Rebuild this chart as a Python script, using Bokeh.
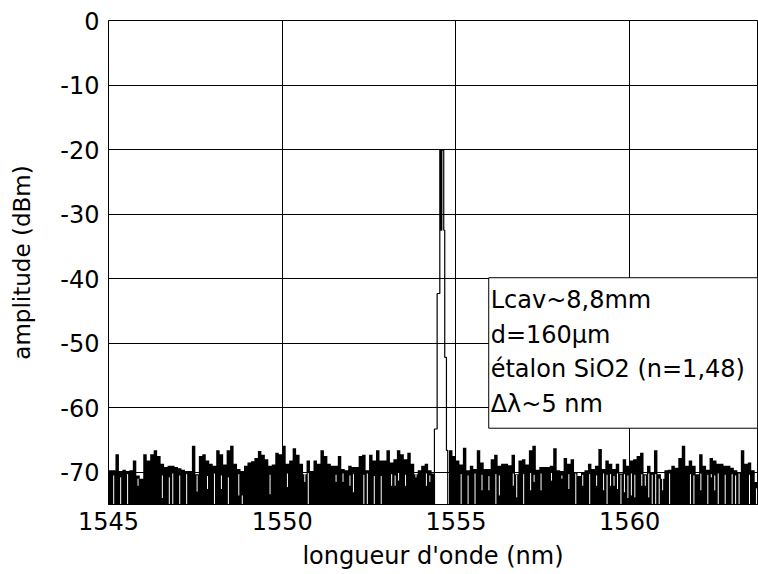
import numpy as np
from bokeh.plotting import figure
from bokeh.models import FixedTicker, BoxAnnotation, Label, Range1d
from bokeh.embed import file_html
from bokeh.resources import INLINE

# ---------------- data ----------------
WL_START = 1545.05   # centre wavelength of first noise-floor sample (nm)
WL_STEP = 0.1        # sample spacing (nm)

# upper envelope of the noise floor per sample (dBm); None = no noise (inside the laser line)
noise_top = [
    -69.7, -69.7, -67.2, -69.8, -69.6, -69.8, -69.7, -68.2, -70.5, -71.0,
    -67.2, -68.2, -67.2, -66.6, -67.5, -68.7, -69.2, -69.0, -69.0, -69.2,
    -69.4, -69.6, -69.8, -69.8, -65.9, -70.3, -67.5, -67.2, -68.2, -68.7,
    -69.0, -66.6, -67.2, -68.8, -66.6, -65.9, -68.7, -69.5, -69.8, -69.0,
    -68.5, -68.3, -67.8, -66.7, -67.3, -68.0, -69.0, -68.8, -67.0, -67.2,
    -65.9, -68.7, -68.2, -66.3, -67.3, -68.7, -70.3, -68.2, -69.8, -68.2,
    -68.7, -66.6, -67.5, -68.7, -69.0, -69.0, -67.5, -69.5, -69.7, -69.0,
    -69.2, -69.2, -67.5, -67.3, -69.7, -67.3, -68.2, -66.6, -68.2, -68.2,
    -66.6, -68.5, -68.0, -66.6, -67.2, -68.0, -67.0, -68.7, -70.3, -69.7,
    -69.0, -68.7, -69.7, -70.2, None, None, None, None, -66.6, -67.5,
    -68.2, -68.8, -66.2, -69.7, -69.0, -69.5, -66.6, -68.5, -69.5, -69.5,
    -68.0, -67.3, -69.0, -68.7, -68.7, -68.9, -67.3, -70.3, -68.2, -68.0,
    -68.8, -66.6, -65.9, -69.6, -69.2, -69.2, -69.2, -69.0, -66.3, -69.7,
    -69.8, -67.8, -68.7, -68.0, -70.0, -70.6, -70.0, -69.7, -68.7, -69.5,
    -69.0, -66.4, -69.5, -68.2, -68.7, -69.5, -68.7, -70.2, -68.0, -69.0,
    -68.2, -68.0, -67.5, -67.0, -70.3, -69.0, -70.0, -66.6, -70.3, -71.0,
    -69.7, -69.6, -69.0, -69.3, -67.8, -65.9, -69.0, -68.2, -69.0, -70.3,
    -67.2, -69.0, -69.6, -67.8, -68.2, -68.7, -68.7, -69.0, -69.0, -69.3,
    -69.7, -70.0, -66.6, -68.7, -68.5, -69.7, -71.5,
]

# samples where the trace stays above a level (white slits in the noise floor)
gap_bin = [1, 3, 5, 8, 15, 17, 18, 20, 22, 25,
           28, 30, 32, 34, 37, 38, 46, 51, 56, 57,
           65, 67, 69, 70, 73, 74, 76, 78, 81, 82,
           83, 85, 88, 91, 92, 101, 103, 105, 107, 109,
           111, 112, 116, 117, 119, 121, 122, 124, 127, 130,
           132, 134, 136, 138, 140, 142, 143, 144, 145, 146,
           147, 148, 149, 150, 151, 153, 154, 155, 156, 157,
           158, 159, 161, 167, 168, 170, 172, 173, 174, 175,
           177, 179, 180, 181, 184, 186]
gap_top = [-70.5, -70.8, -70.3, -71.0, -70.5, -70.8, -70.2, -70.5, -70.3, -70.5,
           -70.6, -70.2, -70.5, -70.8, -70.3, -73.6, -70.4, -70.2, -70.3, -70.1,
           -70.4, -70.2, -70.5, -70.3, -70.4, -70.2, -70.6, -70.6, -70.3, -70.5,
           -70.1, -70.4, -70.3, -70.2, -70.5, -70.3, -70.5, -70.2, -70.4, -70.6,
           -70.3, -70.5, -70.2, -70.4, -70.3, -70.0, -70.4, -70.2, -70.0, -70.5,
           -70.3, -70.2, -70.4, -70.3, -70.5, -70.2, -70.4, -70.3, -70.6, -70.2,
           -70.4, -70.3, -70.5, -70.2, -70.4, -70.3, -70.5, -70.2, -70.4, -70.3,
           -71.0, -70.4, -70.2, -70.3, -70.5, -70.2, -70.4, -70.3, -70.5, -70.2,
           -70.4, -70.3, -70.5, -70.2, -70.4, -72.5]
gap_bottom = [-76, -76, -76, -72.1, -74.0, -76, -76, -76, -76, -73.0,
              -72.6, -76, -72.6, -76, -73.6, -76, -73.4, -72.3, -71.5, -76,
              -71.5, -71.5, -72.1, -73.1, -76, -76, -76, -76, -72.1, -72.1,
              -71.3, -72.1, -70.8, -72.1, -71.5, -76, -76, -76, -72.8, -72.8,
              -76, -73.6, -72.1, -73.9, -76, -72.8, -71.5, -72.8, -71.3, -71.0,
              -72.6, -76, -72.1, -76, -72.1, -72.8, -76, -72.1, -72.1, -72.6,
              -76, -73.1, -74.0, -73.6, -73.9, -72.1, -72.1, -73.9, -76, -76,
              -76, -72.8, -76, -76, -76, -72.8, -76, -70.8, -72.8, -76,
              -76, -76, -76, -76, -76, -76]

# laser line (trace around 1554.6 nm)
peak_wl = [1554.381, 1554.381, 1554.459, 1554.459, 1554.536, 1554.536,
           1554.565, 1554.565, 1554.594, 1554.594, 1554.649, 1554.649,
           1554.678, 1554.678, 1554.727, 1554.727, 1554.764, 1554.764]
peak_db = [-76.0, -63.3, -63.3, -42.3, -42.3, -20.1,
           -20.1, -32.5, -32.5, -20.1, -20.1, -32.5,
           -32.5, -52.2, -52.2, -66.6, -66.6, -76.0]

x_ticks = [1545, 1550, 1555, 1560]
y_ticks = [-70, -60, -50, -40, -30, -20, -10, 0]
x_title = "longueur d'onde (nm)"
y_title = "amplitude (dBm)"
note_lines = ["Lcav~8,8mm", "d=160\u00b5m", "\u00e9talon SiO2 (n=1,48)", "\u0394\u03bb~5 nm"]
FLOOR = -76.0

# ---------------- figure ----------------
FONT = "DejaVu Sans"
p = figure(width=758, height=574,
           x_range=Range1d(1545, 1563.68), y_range=Range1d(-75, 0),
           output_backend="svg", toolbar_location=None,
           min_border_left=108, min_border_right=1,
           min_border_top=20, min_border_bottom=70)
p.background_fill_color = "white"
p.border_fill_color = "white"
p.outline_line_color = "black"
p.outline_line_width = 1

wl = WL_START + WL_STEP * np.arange(len(noise_top))
top = np.array(noise_top, dtype=float)
valid = ~np.isnan(top)
# contiguous runs of noise samples (split by the laser line)
runs = []
start = None
for i, v in enumerate(valid):
    if v and start is None:
        start = i
    if (not v or i == len(valid) - 1) and start is not None:
        end = i if not v else i + 1
        runs.append((start, end))
        start = None
for a, b in runs:
    xs = np.concatenate([[wl[a] - WL_STEP / 2], wl[a:b], [wl[b - 1] + WL_STEP / 2]])
    ys = np.concatenate([[top[a]], top[a:b], [top[b - 1]]])
    p.varea_step(x=xs, y1=np.full(len(xs), FLOOR), y2=ys,
                 step_mode="center", fill_color="black")

gx = WL_START + WL_STEP * np.array(gap_bin)
p.segment(x0=gx, y0=gap_top, x1=gx, y1=gap_bottom,
          line_color="white", line_width=1.0)

p.line(peak_wl, peak_db, line_color="black", line_width=1.2)

# grid
for g in (p.xgrid, p.ygrid):
    g.grid_line_color = "black"
    g.grid_line_alpha = 1.0
    g.grid_line_width = 1
    g.level = "guide"
p.xgrid.ticker = FixedTicker(ticks=x_ticks)
p.ygrid.ticker = FixedTicker(ticks=y_ticks)

# axes
p.xaxis.ticker = FixedTicker(ticks=x_ticks)
p.yaxis.ticker = FixedTicker(ticks=y_ticks)
p.yaxis.major_label_overrides = {t: str(t) for t in y_ticks}
for ax in (p.xaxis, p.yaxis):
    ax.axis_line_color = "black"
    ax.major_tick_out = 0
    ax.major_tick_in = 0
    ax.minor_tick_out = 0
    ax.minor_tick_in = 0
    ax.major_label_text_font = FONT
    ax.major_label_text_font_size = "24px"
    ax.major_label_text_color = "black"
    ax.axis_label_text_font = FONT
    ax.axis_label_text_font_style = "normal"
    ax.axis_label_text_color = "black"
p.xaxis.axis_label = x_title
p.yaxis.axis_label = y_title
p.xaxis.axis_label_text_font_size = "24px"
p.yaxis.axis_label_text_font_size = "23px"
p.xaxis.major_label_standoff = 7
p.yaxis.major_label_standoff = 9
p.xaxis.axis_label_standoff = 9
p.yaxis.axis_label_standoff = 22

# annotation box
box = BoxAnnotation(left=1555.944, right=1563.68, top=-39.86, bottom=-63.18,
                    fill_color="white", fill_alpha=1.0,
                    line_color="black", line_width=1, line_alpha=1.0)
p.add_layout(box)
for k, txt in enumerate(note_lines):
    p.add_layout(Label(x=1556.0, y=-43.35 - 5.34 * k, text=txt,
                       text_font=FONT, text_font_size="24px",
                       text_color="black", text_baseline="alphabetic"))

open("out.html", "w").write(file_html(p, INLINE))
